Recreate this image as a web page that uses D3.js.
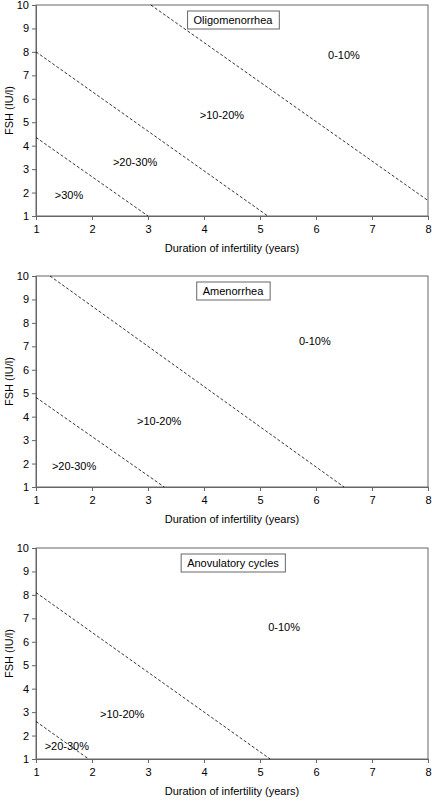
<!DOCTYPE html>
<html><head><meta charset="utf-8">
<script src="https://cdn.jsdelivr.net/npm/d3@7"></script>
<style>body{margin:0;background:#fff}svg{display:block}text{font-family:"Liberation Sans",Arial,sans-serif;}</style>
</head><body><svg id="c" width="432" height="801"></svg>
<script>
const panelTitles = ["Oligomenorrhea", "Amenorrhea", "Anovulatory cycles"];
const xTicks = [1, 2, 3, 4, 5, 6, 7, 8];
const yTicks = [1, 2, 3, 4, 5, 6, 7, 8, 9, 10];
const xTitle = "Duration of infertility (years)";
const yTitle = "FSH (IU/l)";
// boundary lines per panel (duration, FSH)
const boundaries1 = [[[1, 4.35], [3, 1]], [[1, 8], [5.14, 1]], [[3.05, 10], [8, 1.66]]];
const boundaries2 = [[[1, 4.82], [3.29, 1]], [[1.25, 10], [6.5, 1]]];
const boundaries3 = [[[1, 2.6], [1.94, 1]], [[1, 8.1], [5.18, 1]]];
// region labels per panel: [text, duration, FSH]
const regions1 = [["0-10%", 6.5, 7.87], [">10-20%", 4.32, 5.31], [">20-30%", 2.77, 3.29], [">30%", 1.59, 1.9]];
const regions2 = [["0-10%", 5.98, 7.2], [">10-20%", 3.2, 3.79], [">20-30%", 1.68, 1.87]];
const regions3 = [["0-10%", 5.43, 6.61], [">10-20%", 2.54, 2.93], [">20-30%", 1.55, 1.56]];

const boundaries = [boundaries1, boundaries2, boundaries3];
const regions = [regions1, regions2, regions3];
const tops = [5, 276, 548];
const left = 36, right = 428, ph = 211;
const svg = d3.select("#c");
const axisCol = "#666";

panelTitles.forEach((title, i) => {
  const top = tops[i];
  const x = d3.scaleLinear().domain([1, 8]).range([left, right]);
  const y = d3.scaleLinear().domain([1, 10]).range([top + ph, top]);
  const g = svg.append("g");

  g.append("rect").attr("x", left).attr("y", top).attr("width", right - left).attr("height", ph)
    .attr("fill", "none").attr("stroke", axisCol).attr("stroke-width", 1);

  const xa = g.append("g").attr("transform", `translate(0,${top + ph})`)
    .call(d3.axisBottom(x).tickValues(xTicks).tickSize(4).tickPadding(5).tickFormat(d3.format("d")));
  const ya = g.append("g").attr("transform", `translate(${left},0)`)
    .call(d3.axisLeft(y).tickValues(yTicks).tickSize(4).tickPadding(3).tickFormat(d3.format("d")));
  [xa, ya].forEach(a => {
    a.select(".domain").attr("stroke", axisCol);
    a.selectAll(".tick line").attr("stroke", axisCol);
    a.selectAll("text").attr("fill", "#000").style("font-size", "11px").style("font-family", "'Liberation Sans', Arial, sans-serif");
  });

  g.append("text").attr("x", (left + right) / 2).attr("y", top + ph + 32).attr("dy", "0.35em")
    .attr("text-anchor", "middle").style("font-size", "11px").text(xTitle);
  g.append("text").attr("transform", `translate(9,${top + ph / 2}) rotate(-90)`).attr("dy", "0.35em")
    .attr("text-anchor", "middle").style("font-size", "11px").text(yTitle);

  const line = d3.line().x(d => x(d[0])).y(d => y(d[1]));
  boundaries[i].forEach(seg => {
    g.append("path").attr("d", line(seg)).attr("fill", "none").attr("stroke", "#000")
      .attr("stroke-width", 0.8).attr("stroke-dasharray", "3,2");
  });

  regions[i].forEach(r => {
    g.append("text").attr("x", x(r[1])).attr("y", y(r[2])).attr("dy", "0.35em")
      .attr("text-anchor", "middle").style("font-size", "11px").text(r[0]);
  });

  const cx = (left + right) / 2 + 1;
  const box = g.append("rect");
  const t = g.append("text").attr("x", cx).attr("y", top + 15).attr("dy", "0.35em")
    .attr("text-anchor", "middle").style("font-size", "11px").text(title);
  const bb = t.node().getBBox();
  box.attr("x", bb.x - 6).attr("y", top + 6).attr("width", bb.width + 12).attr("height", 18)
    .attr("fill", "#fff").attr("stroke", axisCol).attr("stroke-width", 1);
});
</script></body></html>
